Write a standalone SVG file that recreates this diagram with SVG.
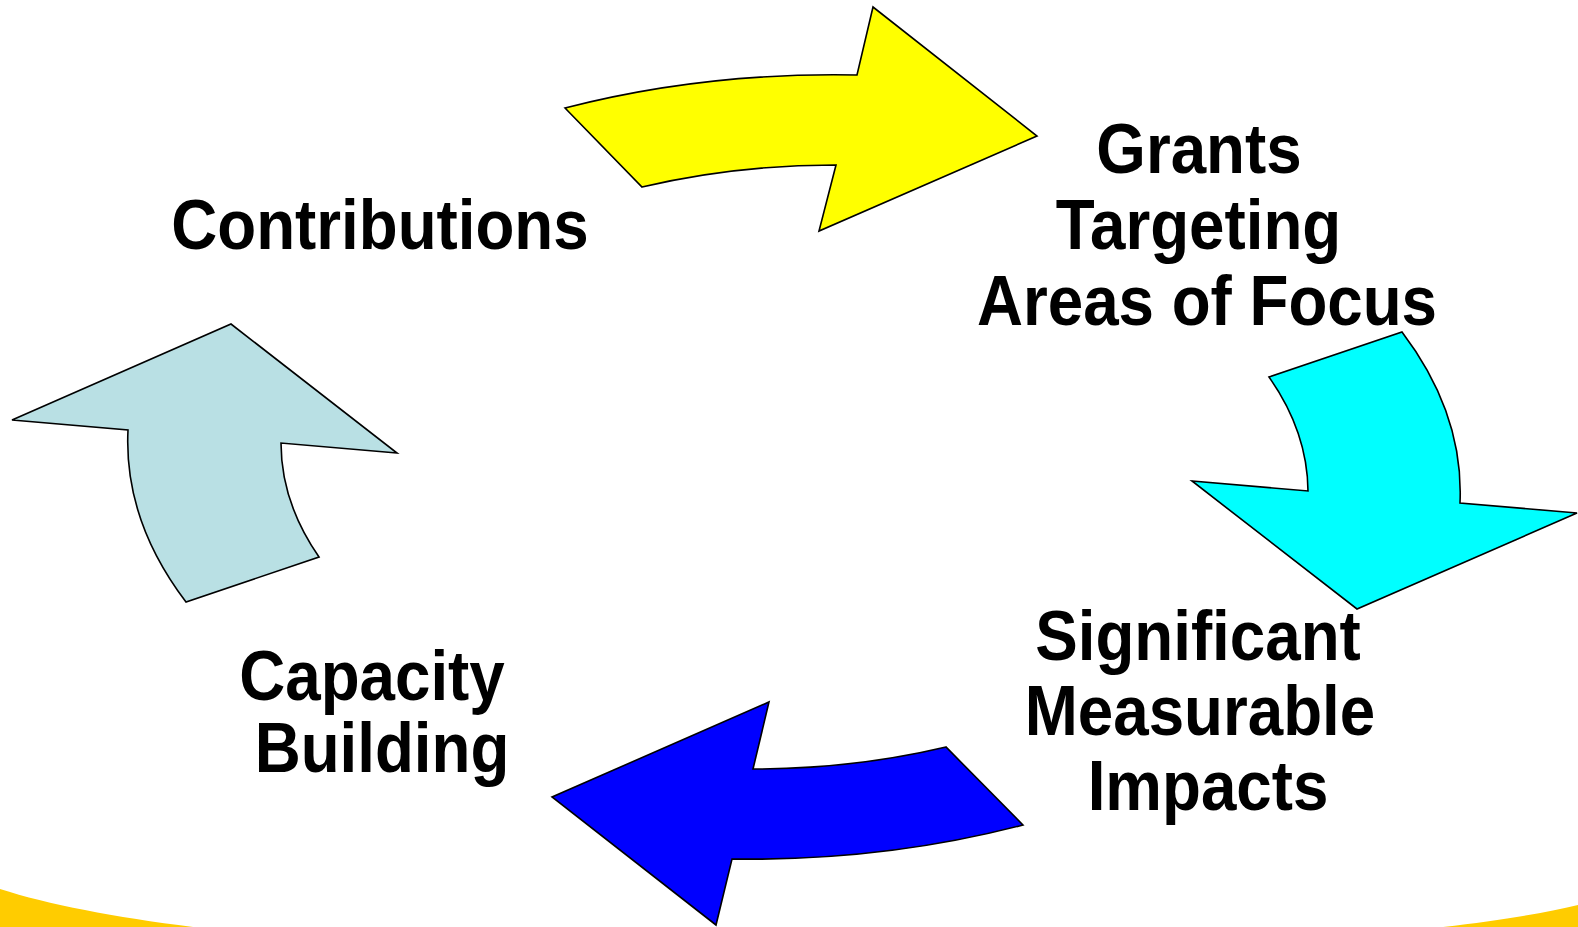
<svg xmlns="http://www.w3.org/2000/svg" width="1578" height="927" viewBox="0 0 1578 927">
<style>
.arrow{stroke:#000;stroke-width:1.6;stroke-linejoin:miter}
.lbl{font-family:"Liberation Sans",Arial,sans-serif;font-weight:bold;font-size:70px;fill:#000;text-anchor:middle}
</style>
<rect width="1578" height="927" fill="#fff"/>
<path id="band" d="M0,889 C300,986 1320,968 1578,905 L1578,927 L0,927 Z" fill="#FFCC00"/>
<g id="connectors">
<path id="arrow-yellow" class="arrow" fill="#FFFF00" d="M565,108 A670,394 0 0 1 857,75 L873,7 L1037,136 L819,231 L836,165 A516,303 0 0 0 642,187 Z"/>
<path id="arrow-cyan" class="arrow" fill="#00FFFF" d="M1402,332 A670,394 0 0 1 1460,503 L1577,513 L1357,609 L1192,481 L1308,491 A516,303 0 0 0 1269,377 Z"/>
<path id="arrow-blue" class="arrow" fill="#0000FF" d="M1023,825 A670,394 0 0 1 732,859 L716,925 L552,797 L769,702 L753,769 A516,303 0 0 0 946,747 Z"/>
<path id="arrow-lightblue" class="arrow" fill="#B9E0E4" d="M186,602 A670,394 0 0 1 128,430 L12,420 L231,324 L397,453 L281,443 A516,303 0 0 0 319,557 Z"/>
</g>
<g id="node-contributions">
<text class="lbl" transform="translate(380,249) scale(0.91,1)">Contributions</text>
</g>
<g id="node-grants">
<text class="lbl" transform="translate(1199,173) scale(0.91,1)">Grants</text>
<text class="lbl" transform="translate(1198.5,249) scale(0.91,1)">Targeting</text>
<text class="lbl" transform="translate(1207,325) scale(0.91,1)">Areas of Focus</text>
</g>
<g id="node-impacts">
<text class="lbl" transform="translate(1198,660) scale(0.91,1)">Significant</text>
<text class="lbl" transform="translate(1200,735) scale(0.91,1)">Measurable</text>
<text class="lbl" transform="translate(1208,810) scale(0.91,1)">Impacts</text>
</g>
<g id="node-capacity">
<text class="lbl" transform="translate(372,700) scale(0.91,1)">Capacity</text>
<text class="lbl" transform="translate(382,772) scale(0.91,1)">Building</text>
</g>
</svg>
